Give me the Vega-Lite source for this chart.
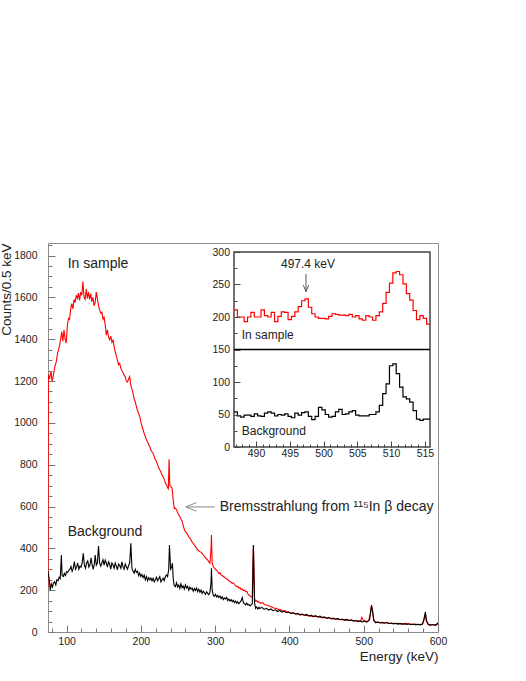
{
"$schema": "https://vega.github.io/schema/vega-lite/v6.json",
"width": 390, "height": 389,
"autosize": {"type": "none"},
"padding": {"left": 48, "top": 243, "right": 88, "bottom": 49},
"background": "white",
"config": {"view": {"stroke": "#8c8c8c", "strokeWidth": 1}, "font": "Liberation Sans", "axis": {"labelOverlap": false}},
"datasets": {
"red": [
{"E":75,"c":215},{"E":75.5,"c":1230},{"E":77,"c":1210},{"E":79,"c":1245},{"E":80.5,"c":1200},{"E":82,"c":1222},{"E":84,"c":1265},{"E":86,"c":1290},{"E":88,"c":1335},{"E":90,"c":1360},{"E":92,"c":1400},{"E":93.5,"c":1435},{"E":95,"c":1390},{"E":96.5,"c":1445},{"E":98,"c":1400},{"E":99.5,"c":1382},{"E":101,"c":1460},{"E":102.5,"c":1500},{"E":104,"c":1495},{"E":105.5,"c":1545},{"E":107,"c":1570},{"E":108.5,"c":1545},{"E":110,"c":1590},{"E":111.5,"c":1575},{"E":113,"c":1610},{"E":114.5,"c":1595},{"E":116,"c":1620},{"E":117.5,"c":1585},{"E":119,"c":1625},{"E":120.5,"c":1610},{"E":122,"c":1676},{"E":123.5,"c":1600},{"E":125,"c":1590},{"E":126.5,"c":1640},{"E":128,"c":1595},{"E":129.5,"c":1625},{"E":131,"c":1590},{"E":132.5,"c":1618},{"E":134,"c":1580},{"E":135.5,"c":1600},{"E":137,"c":1560},{"E":138.5,"c":1575},{"E":140,"c":1625},{"E":141.5,"c":1595},{"E":143,"c":1560},{"E":144.5,"c":1540},{"E":146,"c":1525},{"E":147.5,"c":1530},{"E":149,"c":1495},{"E":150.5,"c":1505},{"E":152,"c":1470},{"E":153.5,"c":1420},{"E":155,"c":1445},{"E":156.5,"c":1410},{"E":158,"c":1398},{"E":159.5,"c":1415},{"E":161,"c":1385},{"E":162.5,"c":1395},{"E":164,"c":1365},{"E":165.5,"c":1340},{"E":167,"c":1320},{"E":168.5,"c":1300},{"E":170,"c":1278},{"E":171.5,"c":1285},{"E":173,"c":1262},{"E":174.5,"c":1250},{"E":176,"c":1240},{"E":177.5,"c":1228},{"E":179,"c":1220},{"E":180.5,"c":1200},{"E":182,"c":1195},{"E":183.5,"c":1210},{"E":185,"c":1222},{"E":186.5,"c":1180},{"E":188,"c":1160},{"E":189.5,"c":1142},{"E":191,"c":1115},{"E":192.5,"c":1100},{"E":194,"c":1078},{"E":195.5,"c":1060},{"E":197,"c":1045},{"E":198.5,"c":1030},{"E":200,"c":1005},{"E":201.5,"c":985},{"E":203,"c":967},{"E":204.5,"c":950},{"E":206,"c":935},{"E":207.5,"c":919},{"E":209,"c":910},{"E":210.5,"c":895},{"E":212,"c":887},{"E":213.5,"c":870},{"E":215,"c":862},{"E":216.5,"c":855},{"E":218,"c":840},{"E":219.5,"c":825},{"E":221,"c":815},{"E":222.5,"c":800},{"E":224,"c":785},{"E":225.5,"c":775},{"E":227,"c":765},{"E":228.5,"c":750},{"E":230,"c":743},{"E":231.5,"c":730},{"E":233,"c":712},{"E":234.5,"c":703},{"E":236,"c":690},{"E":237,"c":685},{"E":238,"c":826},{"E":239,"c":700},{"E":240.5,"c":695},{"E":242,"c":688},{"E":243.5,"c":632},{"E":245,"c":590},{"E":246.5,"c":592},{"E":248,"c":585},{"E":249.5,"c":570},{"E":251,"c":560},{"E":252.5,"c":552},{"E":254,"c":540},{"E":255.5,"c":530},{"E":257,"c":510},{"E":258.5,"c":490},{"E":260,"c":480},{"E":261.5,"c":475},{"E":263,"c":465},{"E":264.5,"c":455},{"E":266,"c":450},{"E":267.5,"c":440},{"E":269,"c":430},{"E":270.5,"c":424},{"E":272,"c":416},{"E":273.5,"c":408},{"E":275,"c":400},{"E":276.5,"c":392},{"E":278,"c":388},{"E":279.5,"c":384},{"E":281,"c":382},{"E":282.5,"c":376},{"E":284,"c":368},{"E":285.5,"c":362},{"E":287,"c":356},{"E":288.5,"c":350},{"E":290,"c":344},{"E":291.5,"c":335},{"E":293,"c":329},{"E":294.5,"c":400},{"E":295,"c":464},{"E":296,"c":330},{"E":297.5,"c":313},{"E":299,"c":305},{"E":300.5,"c":300},{"E":302,"c":295},{"E":303.5,"c":288},{"E":305,"c":280},{"E":306.5,"c":283},{"E":308,"c":272},{"E":309.5,"c":270},{"E":311,"c":265},{"E":312.5,"c":262},{"E":314,"c":257},{"E":315.5,"c":255},{"E":317,"c":250},{"E":318.5,"c":245},{"E":320,"c":241},{"E":321.5,"c":238},{"E":323,"c":233},{"E":324.5,"c":235},{"E":326,"c":228},{"E":327.5,"c":222},{"E":329,"c":217},{"E":330.5,"c":218},{"E":332,"c":210},{"E":333.5,"c":212},{"E":335,"c":203},{"E":336.5,"c":205},{"E":338,"c":198},{"E":339.5,"c":200},{"E":341,"c":193},{"E":342.5,"c":195},{"E":344,"c":182},{"E":345.5,"c":178},{"E":347,"c":172},{"E":348.5,"c":168},{"E":350,"c":165},{"E":351.5,"c":410},{"E":353,"c":160},{"E":354.5,"c":148},{"E":356,"c":150},{"E":357.5,"c":142},{"E":359,"c":145},{"E":361,"c":137},{"E":364,"c":140},{"E":367,"c":130},{"E":370,"c":128},{"E":373,"c":124},{"E":376,"c":120},{"E":379,"c":115},{"E":382,"c":113},{"E":385,"c":108},{"E":388,"c":106},{"E":391,"c":100},{"E":394,"c":102},{"E":397,"c":95},{"E":400,"c":93},{"E":403,"c":90},{"E":406,"c":91},{"E":409,"c":86},{"E":412,"c":87},{"E":415,"c":82},{"E":418,"c":84},{"E":421,"c":79},{"E":424,"c":80},{"E":427,"c":76},{"E":430,"c":77},{"E":433,"c":73},{"E":436,"c":75},{"E":439,"c":71},{"E":442,"c":72},{"E":445,"c":68},{"E":448,"c":69},{"E":451,"c":65},{"E":454,"c":67},{"E":457,"c":63},{"E":460,"c":64},{"E":463,"c":61},{"E":466,"c":62},{"E":469,"c":59},{"E":472,"c":60},{"E":475,"c":57},{"E":478,"c":58},{"E":481,"c":55},{"E":484,"c":57},{"E":487,"c":53},{"E":490,"c":55},{"E":493,"c":52},{"E":496,"c":54},{"E":497.5,"c":70},{"E":499,"c":58},{"E":502,"c":52},{"E":505,"c":50},{"E":508,"c":60},{"E":509.5,"c":100},{"E":510.5,"c":125},{"E":512,"c":100},{"E":513.5,"c":60},{"E":516,"c":45},{"E":519,"c":47},{"E":522,"c":45},{"E":525,"c":44},{"E":528,"c":43},{"E":531,"c":46},{"E":534,"c":42},{"E":537,"c":41},{"E":540,"c":42},{"E":543,"c":40},{"E":546,"c":41},{"E":549,"c":39},{"E":552,"c":40},{"E":555,"c":38},{"E":558,"c":41},{"E":561,"c":37},{"E":564,"c":38},{"E":567,"c":36},{"E":570,"c":38},{"E":573,"c":35},{"E":576,"c":37},{"E":579,"c":36},{"E":581,"c":55},{"E":583,"c":85},{"E":584.5,"c":50},{"E":587,"c":35},{"E":590,"c":34},{"E":593,"c":36},{"E":596,"c":33},{"E":599,"c":35},{"E":600,"c":40}
],
"black": [
{"E":75,"c":290},{"E":76.5,"c":257},{"E":78,"c":200},{"E":79.5,"c":230},{"E":81,"c":215},{"E":82.5,"c":235},{"E":84,"c":240},{"E":85.5,"c":225},{"E":87,"c":250},{"E":88.5,"c":245},{"E":90,"c":262},{"E":91.5,"c":255},{"E":93,"c":368},{"E":94,"c":270},{"E":95.5,"c":265},{"E":97,"c":280},{"E":98.5,"c":270},{"E":100,"c":289},{"E":101.5,"c":285},{"E":103,"c":295},{"E":104.5,"c":300},{"E":106,"c":313},{"E":107.5,"c":290},{"E":109,"c":305},{"E":110.5,"c":337},{"E":112,"c":300},{"E":113.5,"c":310},{"E":115,"c":330},{"E":116.5,"c":300},{"E":118,"c":315},{"E":119.5,"c":310},{"E":121,"c":330},{"E":122.5,"c":376},{"E":124,"c":320},{"E":125.5,"c":305},{"E":127,"c":330},{"E":128.5,"c":340},{"E":130,"c":310},{"E":131.5,"c":320},{"E":133,"c":355},{"E":134.5,"c":320},{"E":136,"c":300},{"E":137.5,"c":330},{"E":138.5,"c":368},{"E":140,"c":320},{"E":141.5,"c":330},{"E":143,"c":411},{"E":144.5,"c":330},{"E":146,"c":315},{"E":147.5,"c":330},{"E":149,"c":345},{"E":150.5,"c":320},{"E":152,"c":344},{"E":153.5,"c":330},{"E":155,"c":310},{"E":156.5,"c":335},{"E":158,"c":325},{"E":159.5,"c":300},{"E":161,"c":330},{"E":162.5,"c":320},{"E":164,"c":305},{"E":165.5,"c":330},{"E":167,"c":315},{"E":168.5,"c":297},{"E":170,"c":325},{"E":171.5,"c":318},{"E":173,"c":305},{"E":174.5,"c":335},{"E":176,"c":310},{"E":177.5,"c":300},{"E":179,"c":325},{"E":180.5,"c":312},{"E":182,"c":300},{"E":183.5,"c":318},{"E":185,"c":330},{"E":186.5,"c":424},{"E":188,"c":305},{"E":189.5,"c":290},{"E":191,"c":281},{"E":192.5,"c":300},{"E":194,"c":285},{"E":195.5,"c":290},{"E":197,"c":270},{"E":198.5,"c":282},{"E":200,"c":265},{"E":201.5,"c":275},{"E":203,"c":260},{"E":204.5,"c":272},{"E":206,"c":250},{"E":207.5,"c":265},{"E":209,"c":245},{"E":210.5,"c":260},{"E":212,"c":249},{"E":213.5,"c":258},{"E":215,"c":245},{"E":216.5,"c":257},{"E":218,"c":240},{"E":219.5,"c":250},{"E":221,"c":262},{"E":222.5,"c":245},{"E":224,"c":255},{"E":225.5,"c":265},{"E":227,"c":240},{"E":228.5,"c":250},{"E":230,"c":258},{"E":231.5,"c":245},{"E":233,"c":265},{"E":234.5,"c":273},{"E":236,"c":265},{"E":237.5,"c":300},{"E":238.5,"c":416},{"E":240,"c":300},{"E":241.5,"c":310},{"E":242.5,"c":329},{"E":243.5,"c":257},{"E":245,"c":220},{"E":246.5,"c":217},{"E":248,"c":235},{"E":249.5,"c":215},{"E":251,"c":225},{"E":252.5,"c":208},{"E":254,"c":230},{"E":255.5,"c":212},{"E":257,"c":220},{"E":258.5,"c":205},{"E":260,"c":225},{"E":261.5,"c":210},{"E":263,"c":218},{"E":264.5,"c":200},{"E":266,"c":215},{"E":267.5,"c":205},{"E":269,"c":210},{"E":270.5,"c":195},{"E":272,"c":208},{"E":273.5,"c":198},{"E":275,"c":210},{"E":276.5,"c":193},{"E":278,"c":205},{"E":279.5,"c":190},{"E":281,"c":200},{"E":282.5,"c":185},{"E":284,"c":195},{"E":285.5,"c":188},{"E":287,"c":180},{"E":288.5,"c":192},{"E":290,"c":185},{"E":291.5,"c":178},{"E":293,"c":190},{"E":294.5,"c":240},{"E":295,"c":305},{"E":296,"c":200},{"E":297.5,"c":175},{"E":299,"c":170},{"E":300.5,"c":180},{"E":302,"c":168},{"E":303.5,"c":175},{"E":305,"c":165},{"E":306.5,"c":172},{"E":308,"c":160},{"E":309.5,"c":168},{"E":311,"c":155},{"E":312.5,"c":162},{"E":314,"c":158},{"E":315.5,"c":165},{"E":317,"c":150},{"E":318.5,"c":158},{"E":320,"c":148},{"E":321.5,"c":155},{"E":323,"c":145},{"E":324.5,"c":152},{"E":326,"c":140},{"E":327.5,"c":148},{"E":329,"c":138},{"E":330.5,"c":145},{"E":332,"c":135},{"E":333.5,"c":142},{"E":335,"c":150},{"E":336.5,"c":165},{"E":338,"c":140},{"E":339.5,"c":135},{"E":341,"c":130},{"E":342.5,"c":138},{"E":344,"c":129},{"E":345.5,"c":132},{"E":347,"c":125},{"E":348.5,"c":130},{"E":350,"c":135},{"E":351.5,"c":416},{"E":353,"c":140},{"E":354.5,"c":113},{"E":356,"c":120},{"E":357.5,"c":110},{"E":359,"c":118},{"E":360,"c":112},{"E":363,"c":118},{"E":366,"c":108},{"E":369,"c":113},{"E":372,"c":105},{"E":375,"c":110},{"E":378,"c":102},{"E":381,"c":106},{"E":384,"c":98},{"E":387,"c":103},{"E":390,"c":95},{"E":393,"c":99},{"E":396,"c":92},{"E":399,"c":96},{"E":402,"c":88},{"E":405,"c":93},{"E":408,"c":85},{"E":411,"c":89},{"E":414,"c":82},{"E":417,"c":86},{"E":420,"c":80},{"E":423,"c":84},{"E":426,"c":77},{"E":429,"c":81},{"E":432,"c":74},{"E":435,"c":78},{"E":438,"c":72},{"E":441,"c":76},{"E":444,"c":69},{"E":447,"c":72},{"E":450,"c":66},{"E":453,"c":70},{"E":456,"c":64},{"E":459,"c":67},{"E":462,"c":61},{"E":465,"c":65},{"E":468,"c":59},{"E":471,"c":62},{"E":474,"c":57},{"E":477,"c":60},{"E":480,"c":55},{"E":483,"c":58},{"E":486,"c":52},{"E":489,"c":55},{"E":492,"c":50},{"E":495,"c":53},{"E":498,"c":48},{"E":501,"c":52},{"E":504,"c":47},{"E":507,"c":55},{"E":509,"c":90},{"E":510.5,"c":129},{"E":512,"c":95},{"E":513.5,"c":55},{"E":516,"c":45},{"E":519,"c":48},{"E":522,"c":43},{"E":525,"c":46},{"E":528,"c":42},{"E":531,"c":45},{"E":534,"c":40},{"E":537,"c":43},{"E":540,"c":39},{"E":543,"c":42},{"E":546,"c":38},{"E":549,"c":41},{"E":552,"c":37},{"E":555,"c":40},{"E":558,"c":36},{"E":561,"c":39},{"E":564,"c":35},{"E":567,"c":38},{"E":570,"c":34},{"E":573,"c":37},{"E":576,"c":34},{"E":579,"c":38},{"E":581,"c":60},{"E":583,"c":96},{"E":584.5,"c":55},{"E":587,"c":36},{"E":590,"c":33},{"E":593,"c":36},{"E":596,"c":32},{"E":598.5,"c":38},{"E":600,"c":45}
],
"insetRed": [
{"E":486.75,"c":211},{"E":487.25,"c":200},{"E":487.75,"c":200},{"E":488.25,"c":193},{"E":488.75,"c":200},{"E":489.25,"c":207},{"E":489.75,"c":200},{"E":490.25,"c":200},{"E":490.75,"c":211},{"E":491.25,"c":202},{"E":491.75,"c":200},{"E":492.25,"c":207},{"E":492.75,"c":193},{"E":493.25,"c":201},{"E":493.75,"c":208},{"E":494.25,"c":207},{"E":494.75,"c":196},{"E":495.25,"c":201},{"E":495.75,"c":208},{"E":496.25,"c":216},{"E":496.75,"c":225},{"E":497.25,"c":228},{"E":497.75,"c":215},{"E":498.25,"c":205},{"E":498.75,"c":200},{"E":499.25,"c":198},{"E":499.75,"c":198},{"E":500.25,"c":197},{"E":500.75,"c":201},{"E":501.25,"c":205},{"E":501.75,"c":204},{"E":502.25,"c":203},{"E":502.75,"c":203},{"E":503.25,"c":202},{"E":503.75,"c":204},{"E":504.25,"c":200},{"E":504.75,"c":202},{"E":505.25,"c":197},{"E":505.75,"c":195},{"E":506.25,"c":202},{"E":506.75,"c":200},{"E":507.25,"c":195},{"E":507.75,"c":202},{"E":508.25,"c":208},{"E":508.75,"c":221},{"E":509.25,"c":238},{"E":509.75,"c":252},{"E":510.25,"c":268},{"E":510.75,"c":270},{"E":511.25,"c":265},{"E":511.75,"c":251},{"E":512.25,"c":236},{"E":512.75,"c":226},{"E":513.25,"c":210},{"E":513.75,"c":196},{"E":514.25,"c":202},{"E":514.75,"c":198},{"E":515.25,"c":189},{"E":515.75,"c":189}
],
"insetBlack": [
{"E":486.75,"c":54},{"E":487.25,"c":48},{"E":487.75,"c":46},{"E":488.25,"c":49},{"E":488.75,"c":49},{"E":489.25,"c":47},{"E":489.75,"c":51},{"E":490.25,"c":48},{"E":490.75,"c":47},{"E":491.25,"c":52},{"E":491.75,"c":54},{"E":492.25,"c":52},{"E":492.75,"c":48},{"E":493.25,"c":50},{"E":493.75,"c":49},{"E":494.25,"c":51},{"E":494.75,"c":47},{"E":495.25,"c":45},{"E":495.75,"c":52},{"E":496.25,"c":49},{"E":496.75,"c":53},{"E":497.25,"c":54},{"E":497.75,"c":47},{"E":498.25,"c":42},{"E":498.75,"c":47},{"E":499.25,"c":61},{"E":499.75,"c":57},{"E":500.25,"c":50},{"E":500.75,"c":46},{"E":501.25,"c":47},{"E":501.75,"c":54},{"E":502.25,"c":58},{"E":502.75,"c":50},{"E":503.25,"c":51},{"E":503.75,"c":54},{"E":504.25,"c":56},{"E":504.75,"c":49},{"E":505.25,"c":48},{"E":505.75,"c":48},{"E":506.25,"c":48},{"E":506.75,"c":50},{"E":507.25,"c":50},{"E":507.75,"c":54},{"E":508.25,"c":64},{"E":508.75,"c":82},{"E":509.25,"c":97},{"E":509.75,"c":125},{"E":510.25,"c":128},{"E":510.75,"c":113},{"E":511.25,"c":92},{"E":511.75,"c":77},{"E":512.25,"c":74},{"E":512.75,"c":69},{"E":513.25,"c":56},{"E":513.75,"c":43},{"E":514.25,"c":41},{"E":514.75,"c":43},{"E":515.25,"c":43},{"E":515.75,"c":43}
],
"mainArrow": [
{"seg":"shaft","o":1,"E":260.5,"c":598},{"seg":"shaft","o":2,"E":299.5,"c":598},
{"seg":"head","o":1,"E":274.9,"c":619},{"seg":"head","o":2,"E":260.5,"c":598},{"seg":"head","o":3,"E":274.9,"c":578}
],
"insetArrow": [
{"seg":"shaft","o":1,"E":497.4,"c":266},{"seg":"shaft","o":2,"E":497.4,"c":239},
{"seg":"head","o":1,"E":497.0,"c":249},{"seg":"head","o":2,"E":497.4,"c":239},{"seg":"head","o":3,"E":497.8,"c":249}
]
},
"layer": [
{
"layer": [
{"data": {"name": "red"},
 "mark": {"type": "line", "color": "#ff0000", "strokeWidth": 1.1, "clip": true},
 "encoding": {
  "x": {"field": "E", "type": "quantitative", "scale": {"domain": [75, 600], "nice": false, "zero": false},
   "axis": {"orient": "bottom", "title": "Energy (keV)", "titleAnchor": "end", "titleFontSize": 13.5, "titleFontWeight": "normal", "titleColor": "#222", "titlePadding": 3,
    "values": [100,200,300,400,500,600], "format": "d",
    "tickSize": -7, "tickColor": "#777", "domain": false, "grid": false, "labelPadding": 11, "labelFontSize": 10.5, "labelColor": "#222", "labelFlush": false, "labelOverlap": false}},
  "y": {"field": "c", "type": "quantitative", "scale": {"domain": [0, 1860], "nice": false, "zero": true},
   "axis": {"orient": "left", "title": "Counts/0.5 keV", "titleAnchor": "end", "titleFontSize": 13.5, "titleFontWeight": "normal", "titleColor": "#222", "titlePadding": 0,
    "values": [0,200,400,600,800,1000,1200,1400,1600,1800], "format": "d",
    "tickSize": -7, "tickColor": "#777", "domain": false, "grid": false, "labelPadding": 18, "labelFontSize": 10.5, "labelColor": "#222", "labelFlush": false, "labelOverlap": false}}
 }},
{"data": {"name": "black"},
 "mark": {"type": "line", "color": "#000000", "strokeWidth": 1.1, "clip": true},
 "encoding": {"x": {"field": "E", "type": "quantitative"}, "y": {"field": "c", "type": "quantitative"}}},
{"data": {"name": "mainArrow"},
 "mark": {"type": "line", "color": "#8a8a8a", "strokeWidth": 1},
 "encoding": {"x": {"field": "E", "type": "quantitative"}, "y": {"field": "c", "type": "quantitative"}, "detail": {"field": "seg"}, "order": {"field": "o"}}},
{"data": {"values": [{"E": 101.5, "c": 1759, "t": "In sample"}, {"E": 101.5, "c": 480, "t": "Background"}]},
 "mark": {"type": "text", "align": "left", "baseline": "middle", "fontSize": 14, "color": "#222"},
 "encoding": {"x": {"field": "E", "type": "quantitative"}, "y": {"field": "c", "type": "quantitative"}, "text": {"field": "t"}}},
{"data": {"values": [{"E": 306.2, "c": 598, "t": "Bremsstrahlung from ¹¹⁵In β decay"}]},
 "mark": {"type": "text", "align": "left", "baseline": "middle", "fontSize": 14, "color": "#222"},
 "encoding": {"x": {"field": "E", "type": "quantitative"}, "y": {"field": "c", "type": "quantitative"}, "text": {"field": "t"}}}
]
},
{
"layer": [
{"data": {"values": [{"x1": 486.75, "x2": 515.75, "y1": 0, "y2": 300}]},
 "mark": {"type": "rect", "fill": "white", "stroke": "#444", "strokeWidth": 1.5},
 "encoding": {
  "x": {"field": "x1", "type": "quantitative", "scale": {"domain": [486.75, 515.75], "range": [186, 382], "nice": false, "zero": false},
   "axis": {"orient": "bottom", "offset": -185, "title": null, "zindex": 1,
    "values": [490,495,500,505,510,515], "format": "d",
    "tickSize": -6, "tickColor": "#444", "domain": false, "grid": false, "labelPadding": 7.5, "labelFontSize": 10.5, "labelColor": "#222", "labelFlush": false, "labelOverlap": false}},
  "x2": {"field": "x2"},
  "y": {"field": "y1", "type": "quantitative", "scale": {"domain": [0, 300], "range": [204, 9], "nice": false, "zero": true},
   "axis": {"orient": "left", "offset": -186, "title": null, "zindex": 1,
    "values": [0,50,100,150,200,250,300], "format": "d",
    "tickSize": -6, "tickColor": "#444", "domain": false, "grid": false, "labelPadding": 10.5, "labelFontSize": 10.5, "labelColor": "#222", "labelFlush": false, "labelOverlap": false}},
  "y2": {"field": "y2"}
 }},
{"data": {"values": [{"x1": 486.75, "x2": 515.75, "y": 150}]},
 "mark": {"type": "rule", "color": "#000", "strokeWidth": 1.3},
 "encoding": {"x": {"field": "x1", "type": "quantitative"}, "x2": {"field": "x2"}, "y": {"field": "y", "type": "quantitative"}}},
{"data": {"name": "insetRed"},
 "mark": {"type": "line", "color": "#ff0000", "strokeWidth": 1.2, "interpolate": "step-after"},
 "encoding": {"x": {"field": "E", "type": "quantitative"}, "y": {"field": "c", "type": "quantitative"}}},
{"data": {"name": "insetBlack"},
 "mark": {"type": "line", "color": "#000000", "strokeWidth": 1.2, "interpolate": "step-after"},
 "encoding": {"x": {"field": "E", "type": "quantitative"}, "y": {"field": "c", "type": "quantitative"}}},
{"data": {"name": "insetArrow"},
 "mark": {"type": "line", "color": "#555", "strokeWidth": 1},
 "encoding": {"x": {"field": "E", "type": "quantitative"}, "y": {"field": "c", "type": "quantitative"}, "detail": {"field": "seg"}, "order": {"field": "o"}}},
{"data": {"values": [{"E": 497.7, "c": 281, "t": "497.4 keV"}]},
 "mark": {"type": "text", "align": "center", "baseline": "middle", "fontSize": 12, "color": "#222"},
 "encoding": {"x": {"field": "E", "type": "quantitative"}, "y": {"field": "c", "type": "quantitative"}, "text": {"field": "t"}}},
{"data": {"values": [{"E": 487.9, "c": 173, "t": "In sample"}, {"E": 487.9, "c": 25, "t": "Background"}]},
 "mark": {"type": "text", "align": "left", "baseline": "middle", "fontSize": 12, "color": "#222"},
 "encoding": {"x": {"field": "E", "type": "quantitative"}, "y": {"field": "c", "type": "quantitative"}, "text": {"field": "t"}}}
]
},
{"data": {"values": [{"E": 300, "c": 900}]},
 "mark": {"type": "point", "opacity": 0},
 "encoding": {
  "x": {"field": "E", "type": "quantitative", "scale": {"domain": [75, 600], "nice": false, "zero": false},
   "axis": {"orient": "bottom", "title": null, "labels": false, "values": [80,120,140,160,180,220,240,260,280,320,340,360,380,420,440,460,480,520,540,560,580],
    "tickSize": -4, "tickColor": "#777", "domain": false, "grid": false}},
  "y": {"field": "c", "type": "quantitative", "scale": {"domain": [0, 1860], "nice": false, "zero": true},
   "axis": {"orient": "left", "title": null, "labels": false, "values": [50,100,150,250,300,350,450,500,550,650,700,750,850,900,950,1050,1100,1150,1250,1300,1350,1450,1500,1550,1650,1700,1750,1850],
    "tickSize": -4, "tickColor": "#777", "domain": false, "grid": false}}
 }},
{"data": {"values": [{"E": 500, "c": 150}]},
 "mark": {"type": "point", "opacity": 0},
 "encoding": {
  "x": {"field": "E", "type": "quantitative", "scale": {"domain": [486.75, 515.75], "range": [186, 382], "nice": false, "zero": false},
   "axis": {"orient": "bottom", "offset": -185, "title": null, "labels": false, "zindex": 1, "values": [487,488,489,491,492,493,494,496,497,498,499,501,502,503,504,506,507,508,509,511,512,513,514],
    "tickSize": -3, "tickColor": "#444", "domain": false, "grid": false}},
  "y": {"field": "c", "type": "quantitative", "scale": {"domain": [0, 300], "range": [204, 9], "nice": false, "zero": true},
   "axis": {"orient": "left", "offset": -186, "title": null, "labels": false, "zindex": 1, "values": [25,75,125,175,225,275],
    "tickSize": -3, "tickColor": "#444", "domain": false, "grid": false}}
 }}
],
"resolve": {"scale": {"x": "independent", "y": "independent"}, "axis": {"x": "independent", "y": "independent"}}
}
